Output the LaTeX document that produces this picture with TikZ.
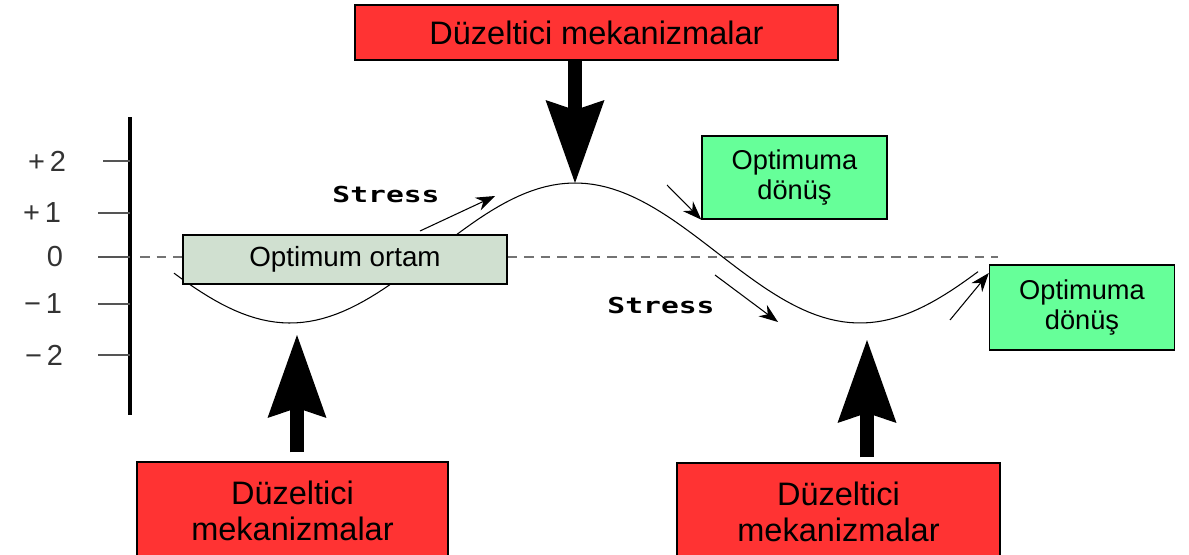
\documentclass[tikz,border=0pt]{standalone}
\usepackage{fontspec}
\setmainfont{Liberation Sans}
\newfontfamily\stressfont{DejaVu Sans Mono}
\usetikzlibrary{arrows.meta}
\definecolor{boxred}{HTML}{FF3333}
\definecolor{boxgreen}{HTML}{66FF99}
\definecolor{boxgray}{HTML}{D0E0D0}
\definecolor{tickgray}{HTML}{555555}
\definecolor{dashgray}{HTML}{737373}

\begin{document}
\begin{tikzpicture}[x=0.02cm, y=-0.02cm,
    redbox/.style = {draw, line width=0.8pt, fill=boxred, align=center, inner sep=0pt, font=\fontsize{18.5}{20.5}\selectfont},
    greenbox/.style = {draw, line width=0.8pt, fill=boxgreen, align=center, inner sep=0pt, minimum width=3.7cm, font=\fontsize{15.5}{17.5}\selectfont},
    optbox/.style = {draw, line width=0.8pt, fill=boxgray, inner sep=0pt, font=\fontsize{15.8}{18}\selectfont},
    bigarrow/.style = {line width=0.28cm, -{Stealth[length=1.66cm, width=1.18cm, inset=0.2cm, line width=0pt]}},
    smallarrow/.style = {line width=0.6pt, -{Stealth[length=0.38cm, width=0.28cm]}},
    lvl/.style = {font=\fontsize{16.5}{18}\selectfont, text=black!80},
    stresslbl/.style = {font=\stressfont\bfseries\fontsize{12.5}{14}\selectfont}]
    \useasboundingbox (0,0) rectangle (1189,554);

    % axis with levels
    \draw[line width=2.3pt] (130,117) -- (130,415);
    \foreach \yy/\lab/\xl/\xs [count=\i] in {161/{+\,2}/47/103, 213/{+\,1}/42/98, 257/0/55/98, 304/{−\,1}/43/98, 355/{−\,2}/44/98} {
        \draw[line width=1.1pt, tickgray] (\xs,\yy) -- (130,\yy);
        \node[lvl] (lv\i) at (\xl,\yy) {\lab};
    }
    \draw[line width=1.7pt, dashgray, dash pattern=on 5.5pt off 4pt] (140,257) -- (998,257);
    \draw[line width=0.6pt] plot[domain=174:978, samples=120] (\x, {253+70*cos(0.63158*(\x-290))});

    \node[redbox, minimum width=9.66cm, minimum height=1.1cm] (dtop) at (596.5,32.5) {Düzeltici mekanizmalar};
    \node[redbox, minimum width=6.22cm, minimum height=1.96cm] (dleft) at (292.5,511) {Düzeltici\\mekanizmalar};
    \node[redbox, minimum width=6.46cm, minimum height=1.96cm] (dright) at (838.5,512) {Düzeltici\\mekanizmalar};
    \node[optbox, minimum width=6.48cm, minimum height=0.98cm] (opt) at (345,259.5) {Optimum ortam};
    \node[greenbox, minimum height=1.66cm] (don1) at (794.5,177.5) {Optimuma\\dönüş};
    \node[greenbox, minimum height=1.7cm] (don2) at (1082,307.5) {Optimuma\\dönüş};

    \coordinate (peak) at (575,183);
    \coordinate (lowl) at (297,335);
    \coordinate (lowr) at (867,340);
    \draw[bigarrow] (dtop.south -| peak) -- (peak);
    \draw[bigarrow, shorten <=0.18cm] (dleft.north -| lowl) -- (lowl);
    \draw[bigarrow, shorten <=0.1cm] (dright.north -| lowr) -- (lowr);

    \node[stresslbl] (st1) at (386,195) {\scalebox{1.35}[1]{Stress}};
    \node[stresslbl] (st2) at (661,306) {\scalebox{1.35}[1]{Stress}};
    \coordinate (s1a) at (420,231);
    \coordinate (s1b) at (495,196);
    \coordinate (s2a) at (715,275);
    \coordinate (s2b) at (778,322);
    \coordinate (r1a) at (667,185);
    \coordinate (r2a) at (950,320);
    \draw[smallarrow] (s1a) -- (s1b);
    \draw[smallarrow] (s2a) -- (s2b);
    \draw[smallarrow] (r1a) -- (don1.south west);
    \draw[smallarrow] (r2a) -- (don2.west |- 0,273);
\end{tikzpicture}
\end{document}
